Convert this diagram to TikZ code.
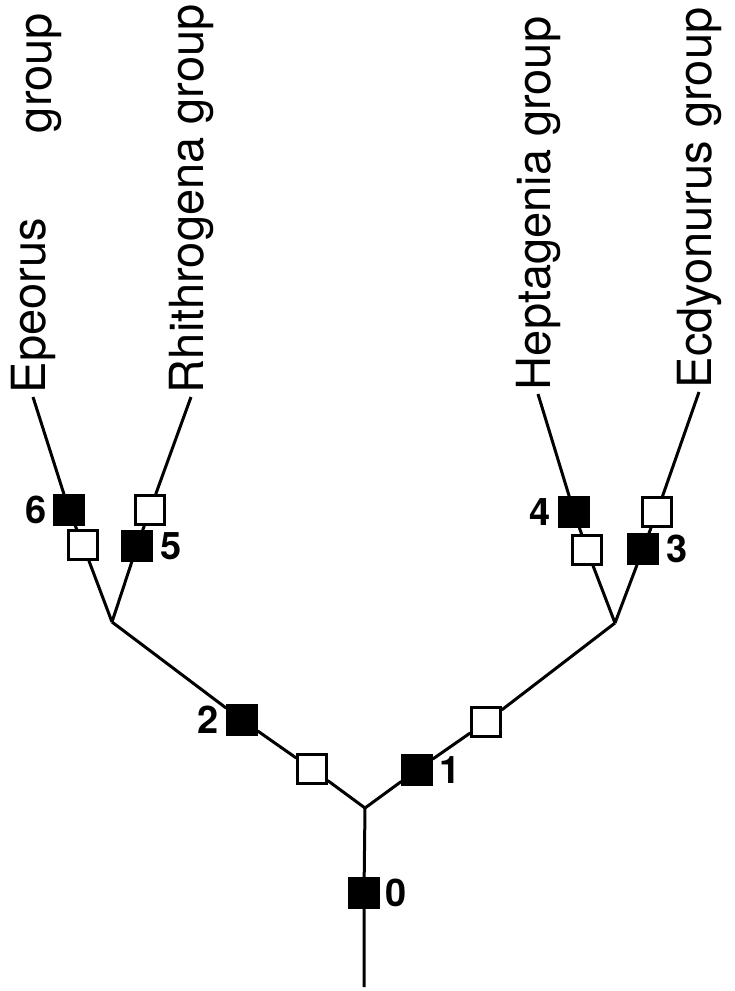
\documentclass[tikz,border=0pt]{standalone}
\usepackage{fontspec}
\setmainfont{TeX Gyre Heros}
\usetikzlibrary{positioning}

\tikzset{
  fullbox/.style={draw,fill=black,line width=1.2pt,minimum size=14.5pt,inner sep=0pt},
  emptybox/.style={draw,fill=white,line width=1.2pt,minimum size=14.5pt,inner sep=0pt},
  digit/.style={inner sep=0pt,font=\fontsize{19}{22}\selectfont\bfseries},
  taxon/.style={rotate=90,anchor=base west,inner sep=0pt,outer sep=2pt,
    font=\fontsize{23.5}{28}\selectfont},
  branch/.style={line width=1.5pt}
}

\begin{document}
\begin{tikzpicture}[x=0.5pt,y=-0.5pt]
        \useasboundingbox(0,0)rectangle(734,991);

        % radice e biforcazioni
        \coordinate (bot) at (364,987);
        \coordinate (root) at (365,808);
        \coordinate (fL) at (112,622);
        \coordinate (fR) at (615,623);

        % caratteri sul tronco
        \node[fullbox] (b0) at (364,893) {};
        \node[emptybox] (wL) at (312,769) {};
        \node[fullbox] (b2) at (242,720) {};
        \node[fullbox] (b1) at (417,770) {};
        \node[emptybox] (wR) at (486,722) {};

        % caratteri sui rami terminali
        \node[emptybox] (w6) at (83,545) {};
        \node[fullbox] (b6) at (69,510) {};
        \node[fullbox] (b5) at (137,546) {};
        \node[emptybox] (w5) at (150,510) {};
        \node[emptybox] (w4) at (587,550) {};
        \node[fullbox] (b4) at (574,512) {};
        \node[fullbox] (b3) at (643,549) {};
        \node[emptybox] (w3) at (657,512) {};

        % numeri
        \node[digit,right=2.5pt of b0] (t0) {0};
        \node[digit,right=3pt of b1] (t1) {1};
        \node[digit,left=3.5pt of b2] (t2) {2};
        \node[digit,right=3.5pt of b3] (t3) {3};
        \node[digit,left=3.5pt of b4] (t4) {4};
        \node[digit,right=3.5pt of b5] (t5) {5};
        \node[digit,left=3pt of b6] (t6) {6};

        % gruppi
        \node[taxon] (epeorus) at (45,397) {Epeorus};
        \node[taxon] (epgroup) at (51,137) {group};
        \node[taxon] (rhithro) at (203,397) {Rhithrogena group};
        \node[taxon] (hepta) at (550,394) {Heptagenia group};
        \node[taxon] (ecdyo) at (711,392) {Ecdyonurus group};

        % rami
        \begin{scope}[on background layer/.try]
        \draw[branch](bot)--(b0)--(root);
        \draw[branch](root)--(wL)--(b2)--(fL);
        \draw[branch](root)--(b1)--(wR)--(fR);
        \draw[branch](fL)--(w6)--(b6)--(epeorus.west);
        \draw[branch](fL)--(b5)--(w5)--(rhithro.west);
        \draw[branch](fR)--(w4)--(b4)--(hepta.west);
        \draw[branch](fR)--(b3)--(w3)--(ecdyo.west);
        \end{scope}
\end{tikzpicture}
\end{document}
